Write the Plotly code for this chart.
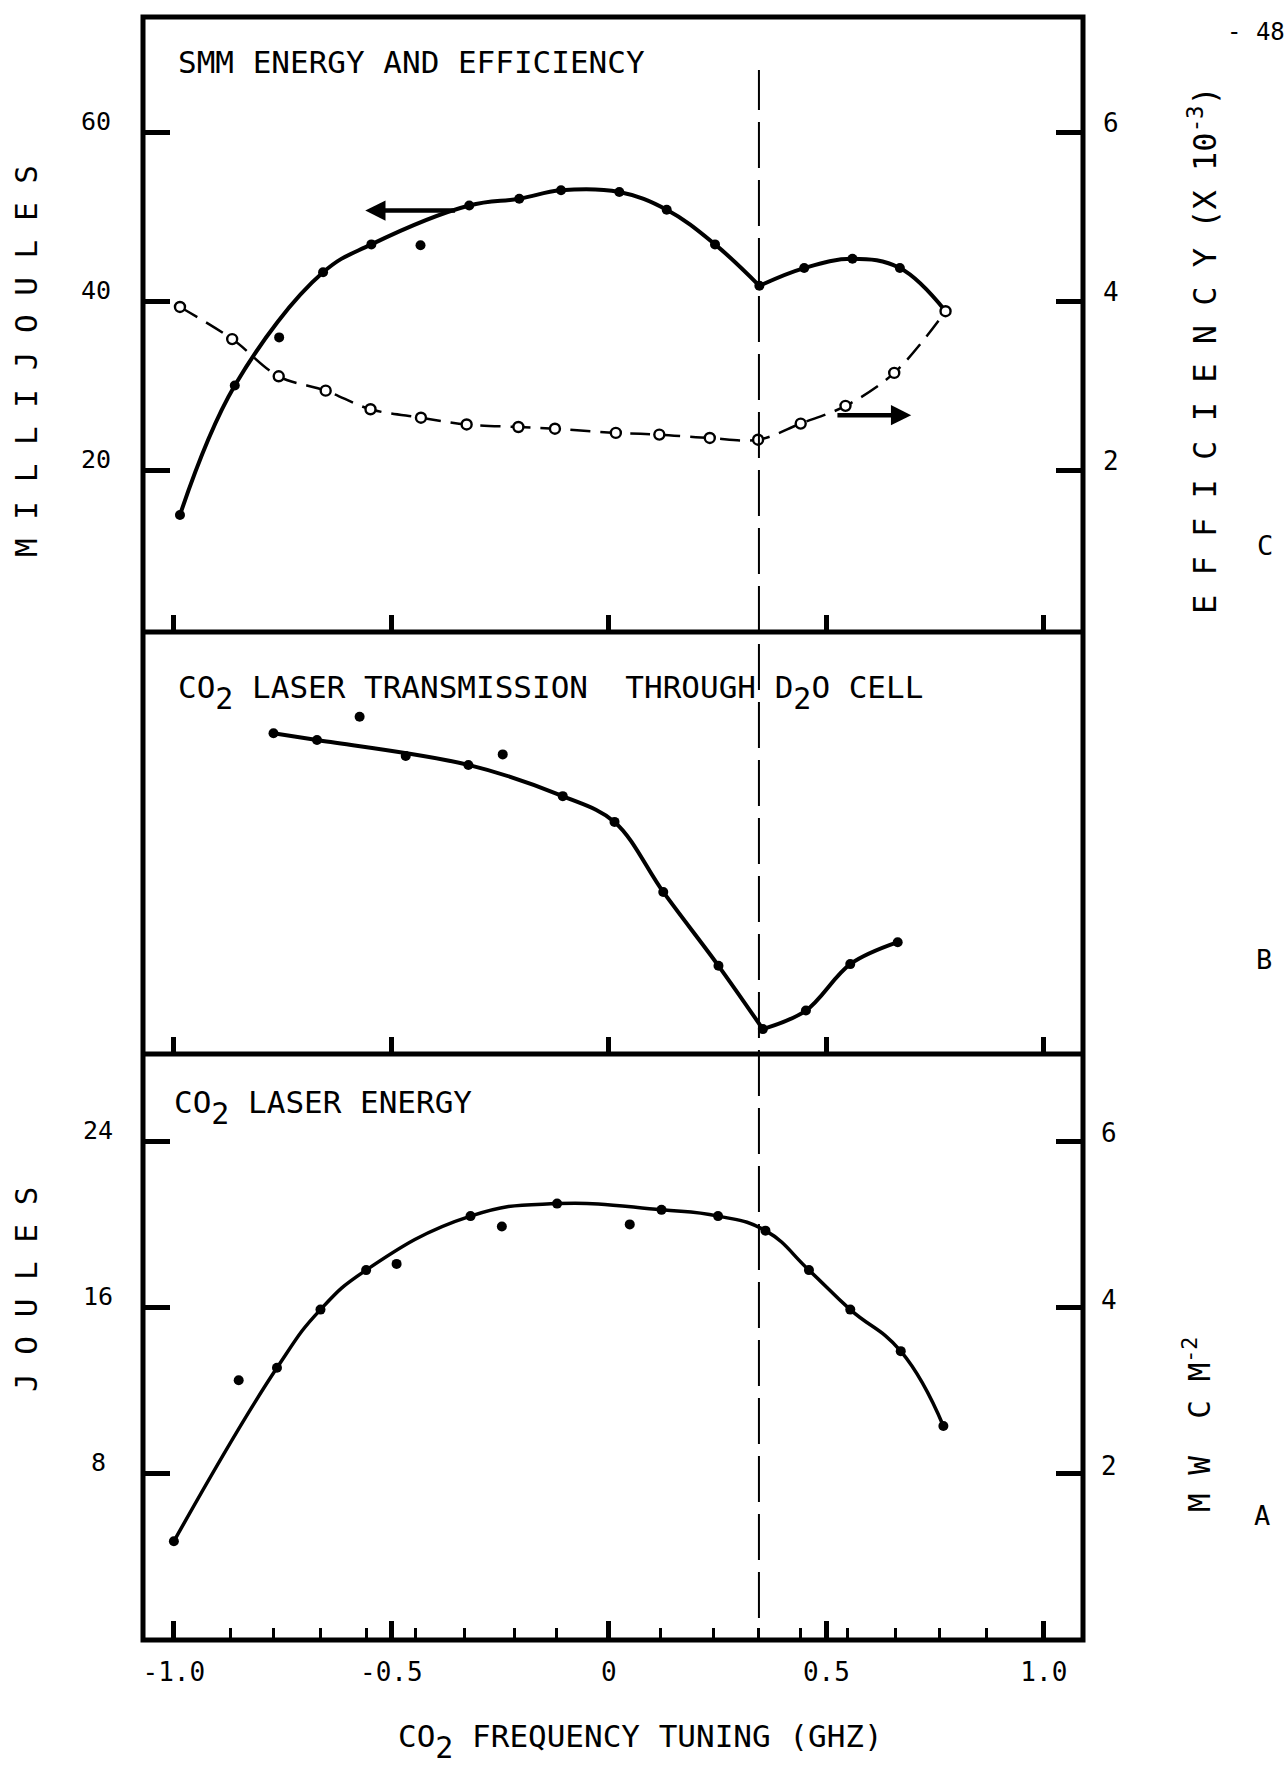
import plotly.graph_objects as go

# ---------------- data ----------------
# Panel C : SMM energy (mJ, filled dots) and SMM efficiency (x 1e-3, open circles)
smm_ghz = [-0.986, -0.860, -0.758, -0.657, -0.546, -0.433, -0.321, -0.206, -0.110,
           0.024, 0.133, 0.244, 0.346, 0.449, 0.560, 0.669, 0.774]
smm_mj = [14.8, 30.1, 35.8, 43.5, 46.8, 46.7, 51.4, 52.2, 53.2,
          53.0, 50.9, 46.8, 41.9, 44.0, 45.1, 44.0, 38.9]
smm_on_curve = [1, 1, 0, 1, 1, 0, 1, 1, 1, 1, 1, 1, 1, 1, 1, 1, 1]

eff_ghz = [-0.986, -0.866, -0.759, -0.651, -0.548, -0.432, -0.327, -0.208, -0.124,
           0.016, 0.116, 0.232, 0.343, 0.441, 0.544, 0.656, 0.774]
eff_e3 = [3.94, 3.56, 3.12, 2.95, 2.73, 2.63, 2.55, 2.52, 2.50,
          2.45, 2.43, 2.39, 2.37, 2.56, 2.77, 3.16, 3.89]

# Panel B : CO2 transmission through D2O cell (relative units, 0-100 of panel height)
trans_ghz = [-0.771, -0.671, -0.573, -0.467, -0.323, -0.244, -0.106, 0.013,
             0.125, 0.252, 0.354, 0.453, 0.555, 0.664]
trans_rel = [76.0, 74.4, 79.9, 70.6, 68.5, 71.0, 61.1, 55.0,
             38.4, 20.9, 5.9, 10.3, 21.3, 26.5]
trans_on_curve = [1, 1, 0, 0, 1, 0, 1, 1, 1, 1, 1, 1, 1, 1]

# Panel A : CO2 laser energy (J)
co2_ghz = [-1.000, -0.851, -0.763, -0.663, -0.558, -0.488, -0.318, -0.246, -0.119,
           0.048, 0.121, 0.251, 0.360, 0.460, 0.555, 0.671, 0.769]
co2_joules = [4.75, 12.5, 13.1, 15.9, 17.8, 18.1, 20.4, 19.9, 21.0,
              20.0, 20.7, 20.4, 19.7, 17.8, 15.9, 13.9, 10.3]
co2_on_curve = [1, 0, 1, 1, 1, 0, 1, 0, 1, 0, 1, 1, 1, 1, 1, 1, 1]

# axes / ticks
x_major_ticks = [-1.0, -0.5, 0.0, 0.5, 1.0]
x_major_labels = ["-1.0", "-0.5", "0", "0.5", "1.0"]
x_minor_ticks = [-0.870, -0.770, -0.663, -0.558, -0.445, -0.332, -0.218, -0.120,
                 0.118, 0.240, 0.343, 0.440, 0.549, 0.658, 0.761, 0.868]
mj_ticks = [20, 40, 60]
eff_ticks = [2, 4, 6]
joule_ticks = [8, 16, 24]
mw_ticks = [2, 4, 6]
resonance_ghz = 0.345

# ---------------- layout constants ----------------
FONT = "DejaVu Sans Mono"
W, H = 1287, 1768
ML, MR, MT, MB = 143, 204, 17, 128
PH = H - MT - MB
def py(pix):          # figure pixel row -> paper y
    return (H - MB - pix) / PH
def px(pix):          # figure pixel column -> paper x
    return (pix - ML) / (W - ML - MR)

D_TOP = [py(632), 1.0]
D_MID = [py(1054), py(632)]
D_BOT = [0.0, py(1054)]
XR = [-1.071, 1.090]

def pick(xs, ys, flags):
    return ([x for x, f in zip(xs, flags) if f], [y for y, f in zip(ys, flags) if f])

fig = go.Figure()

# ---- Panel C ----
cx, cy = pick(smm_ghz, smm_mj, smm_on_curve)
k = min(range(len(cx)), key=lambda i: abs(cx[i] - resonance_ghz))
for xs, ys in ((cx[:k + 1], cy[:k + 1]), (cx[k:], cy[k:])):
    fig.add_trace(go.Scatter(x=xs, y=ys, mode="lines", xaxis="x", yaxis="y",
                             line=dict(color="black", width=4, shape="spline", smoothing=1.1),
                             hoverinfo="skip", showlegend=False))
fig.add_trace(go.Scatter(x=smm_ghz, y=smm_mj, mode="markers", xaxis="x", yaxis="y",
                         marker=dict(color="black", size=10), showlegend=False))
fig.add_trace(go.Scatter(x=eff_ghz, y=eff_e3, mode="lines+markers", xaxis="x", yaxis="y2",
                         line=dict(color="black", width=2.5, dash="20px,10px", shape="spline", smoothing=1.0),
                         marker=dict(symbol="circle", color="white", size=10,
                                     line=dict(color="black", width=2.4)),
                         showlegend=False))

# ---- Panel B ----
tx, ty = pick(trans_ghz, trans_rel, trans_on_curve)
k = min(range(len(ty)), key=lambda i: ty[i])
for xs, ys in ((tx[:k + 1], ty[:k + 1]), (tx[k:], ty[k:])):
    fig.add_trace(go.Scatter(x=xs, y=ys, mode="lines", xaxis="x2", yaxis="y3",
                             line=dict(color="black", width=4, shape="spline", smoothing=1.0),
                             hoverinfo="skip", showlegend=False))
fig.add_trace(go.Scatter(x=trans_ghz, y=trans_rel, mode="markers", xaxis="x2", yaxis="y3",
                         marker=dict(color="black", size=10), showlegend=False))

# ---- Panel A ----
ax_, ay_ = pick(co2_ghz, co2_joules, co2_on_curve)
fig.add_trace(go.Scatter(x=ax_, y=ay_, mode="lines", xaxis="x3", yaxis="y4",
                         line=dict(color="black", width=3.5, shape="spline", smoothing=1.3),
                         hoverinfo="skip", showlegend=False))
fig.add_trace(go.Scatter(x=co2_ghz, y=co2_joules, mode="markers", xaxis="x3", yaxis="y4",
                         marker=dict(color="black", size=10), showlegend=False))

# ---------------- axes ----------------
common_x = dict(range=XR, showgrid=False, zeroline=False, showline=False,
                tickmode="array", tickvals=x_major_ticks, ticks="inside",
                ticklen=17, tickwidth=5, tickcolor="black", showticklabels=False)
common_y = dict(showgrid=False, zeroline=False, showline=False, ticks="inside",
                ticklen=27, tickwidth=5, tickcolor="black", showticklabels=False,
                tickmode="array")

fig.update_layout(
    width=W, height=H, paper_bgcolor="white", plot_bgcolor="white",
    margin=dict(l=ML, r=MR, t=MT, b=MB, pad=0), showlegend=False,
    font=dict(family=FONT, color="black"),
    xaxis=dict(domain=[0, 1], anchor="y", **common_x),
    xaxis2=dict(domain=[0, 1], anchor="y3", matches="x", **common_x),
    xaxis3=dict(domain=[0, 1], anchor="y4", matches="x",
                range=XR, showgrid=False, zeroline=False, showline=False,
                tickmode="array", tickvals=x_major_ticks, ticktext=x_major_labels,
                ticks="inside", ticklen=19, tickwidth=5, tickcolor="black",
                tickfont=dict(family=FONT, size=26, color="black"),
                ticklabelstandoff=14,
                minor=dict(tickmode="array", tickvals=x_minor_ticks, ticks="inside",
                           ticklen=12, tickwidth=2.5, tickcolor="black")),
    yaxis=dict(domain=D_TOP, anchor="x", range=[0.95, 73.7], tickvals=mj_ticks, **common_y),
    yaxis2=dict(overlaying="y", side="right", anchor="x", range=[0.095, 7.37],
                tickvals=eff_ticks, **common_y),
    yaxis3=dict(domain=D_MID, anchor="x2", range=[0, 100], showgrid=False, zeroline=False,
                showline=False, ticks="", showticklabels=False),
    yaxis4=dict(domain=D_BOT, anchor="x3", range=[0, 28.2], tickvals=joule_ticks, **common_y),
    yaxis5=dict(overlaying="y4", side="right", anchor="x3", range=[0, 7.05],
                tickvals=mw_ticks, **common_y),
)

# ---------------- frame & resonance line ----------------
shapes = [dict(type="rect", xref="paper", yref="paper", x0=0, x1=1, y0=0, y1=1,
               line=dict(color="black", width=5), layer="above")]
for yy in (D_MID[1], D_BOT[1]):
    shapes.append(dict(type="line", xref="paper", yref="paper", x0=0, x1=1, y0=yy, y1=yy,
                       line=dict(color="black", width=5), layer="above"))
shapes.append(dict(type="line", xref="x", yref="paper", x0=resonance_ghz, x1=resonance_ghz,
                   y0=py(1618), y1=py(70), line=dict(color="black", width=2, dash="46px,12px"),
                   layer="above"))
fig.update_layout(shapes=shapes)

# ---------------- text ----------------
ann = []
def txt(x, y, text, size, xref="paper", yref="paper", xanchor="center", yanchor="middle",
        angle=0, yshift=0):
    ann.append(dict(x=x, y=y, xref=xref, yref=yref, text=text, showarrow=False,
                    xanchor=xanchor, yanchor=yanchor, textangle=angle, yshift=yshift,
                    font=dict(family=FONT, size=size, color="black")))

for v in mj_ticks:
    txt(px(96), v, str(v), 25, yref="y", yshift=11)
for v in eff_ticks:
    txt(px(1111), v, str(v), 26, yref="y2", yshift=10)
for v in joule_ticks:
    txt(px(98), v, str(v), 25, yref="y4", yshift=11)
for v in mw_ticks:
    txt(px(1109), v, str(v), 26, yref="y5", yshift=8)

NB = "\u00a0"
SUB2 = "<sub><sub><span style='font-size:30px'>2</span></sub></sub>"
txt(px(176), py(62), "SMM ENERGY AND EFFICIENCY", 31, xanchor="left")
txt(px(176), py(692),
    "CO" + SUB2 + " LASER TRANSMISSION" + NB + NB + "THROUGH D" + SUB2 + "O CELL", 31, xanchor="left")
txt(px(172), py(1108), "CO" + SUB2 + " LASER ENERGY", 31, xanchor="left")
txt(px(640), py(1742), "CO" + SUB2 + " FREQUENCY TUNING (GHZ)", 31)

txt(px(26), py(361), "M I L L I J O U L E S", 31, angle=-90)
txt(px(26), py(1290), "J O U L E S", 31, angle=-90)
txt(px(1203), py(350), "E F F I C I E N C Y (X 10<sup>-3</sup>)", 32, angle=-90)
txt(px(1197), py(1425), "M W" + NB + " C M<sup>-2</sup>", 31, angle=-90)

txt(px(1265), py(545), "C", 27)
txt(px(1264), py(960), "B", 27)
txt(px(1262), py(1515), "A", 27)
txt(px(1256), py(32), "- 48", 24)

# direction arrows (which axis each curve belongs to)
ann.append(dict(x=-0.560, y=50.8, xref="x", yref="y", ax=-0.350, ay=50.8, axref="x", ayref="y",
                text="", showarrow=True, arrowhead=2, arrowsize=0.9, arrowwidth=4.5,
                arrowcolor="black"))
ann.append(dict(x=0.695, y=2.66, xref="x", yref="y2", ax=0.522, ay=2.66, axref="x", ayref="y2",
                text="", showarrow=True, arrowhead=2, arrowsize=0.9, arrowwidth=4.5,
                arrowcolor="black"))
fig.update_layout(annotations=ann)

fig.write_html("out.html")
